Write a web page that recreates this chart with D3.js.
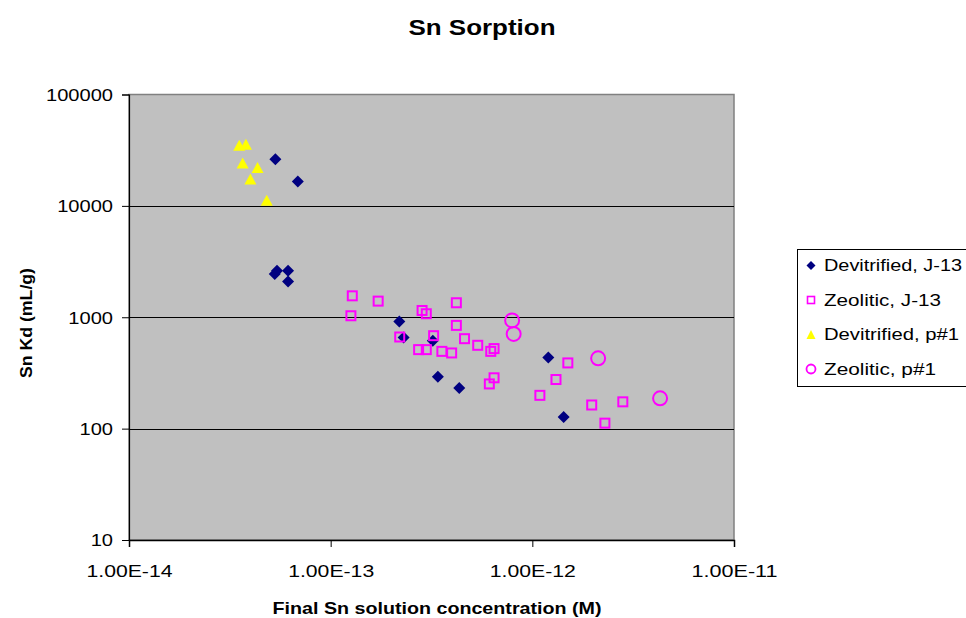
<!DOCTYPE html>
<html>
<head>
<meta charset="utf-8">
<script src="https://cdn.jsdelivr.net/npm/d3@7"></script>
<style>
  html, body { margin: 0; padding: 0; background: #ffffff; }
  svg { display: block; }
  text { font-family: "Liberation Sans", Arial, sans-serif; fill: #000; }
</style>
</head>
<body>
<svg id="chart" width="966" height="618"></svg>
<script>
// ---------------- data ----------------
const seriesNames = ["Devitrified, J-13", "Zeolitic, J-13", "Devitrified, p#1", "Zeolitic, p#1"];

const devJ13X = [5.32e-14, 6.87e-14, 5.28e-14, 5.42e-14, 6.15e-14, 6.15e-14, 2.19e-13, 2.30e-13, 3.21e-13, 3.40e-13, 4.34e-13, 1.20e-12, 1.43e-12];
const devJ13Y = [26200, 16550, 2450, 2620, 2610, 2090, 917, 659, 616, 292, 232, 434, 127];

const zeoJ13X = [1.28e-13, 1.72e-13, 1.26e-13, 2.84e-13, 2.98e-13, 4.20e-13, 4.20e-13, 2.20e-13, 3.24e-13, 4.61e-13, 5.36e-13, 6.22e-13, 6.46e-13, 2.73e-13, 2.98e-13, 3.56e-13, 3.98e-13, 6.12e-13, 6.46e-13, 1.50e-12, 1.31e-12, 1.09e-12, 1.97e-12, 2.81e-12, 2.29e-12];
const zeoJ13Y = [1557, 1396, 1031, 1150, 1075, 1349, 845, 665, 683, 642, 560, 494, 523, 512, 512, 494, 478, 252, 286, 389, 276, 199, 163, 174, 112];

const devP1X = [3.52e-14, 3.80e-14, 3.66e-14, 4.34e-14, 4.00e-14, 4.82e-14];
const devP1Y = [34980, 35750, 24290, 22080, 17470, 11260];

const zeoP1X = [7.94e-13, 8.08e-13, 2.12e-12, 4.30e-12];
const zeoP1Y = [936, 708, 428, 187];

const xTickValues = [1e-14, 1e-13, 1e-12, 1e-11];
const xTickLabels = ["1.00E-14", "1.00E-13", "1.00E-12", "1.00E-11"];
const yTickValues = [10, 100, 1000, 10000, 100000];
const yTickLabels = ["10", "100", "1000", "10000", "100000"];
const gridValues = [100, 1000, 10000];

const titleText = "Sn Sorption";
const xTitleText = "Final Sn solution concentration (M)";
const yTitleText = "Sn Kd (mL/g)";

// ---------------- layout ----------------
const svg = d3.select("#chart");
const plot = { left: 129, right: 734, top: 94.5, bottom: 540 };

const x = d3.scaleLog().domain([1e-14, 1e-11]).range([plot.left, plot.right]);
const y = d3.scaleLog().domain([10, 1e5]).range([plot.bottom, plot.top]);

function stretch(sel, target) {
  sel.each(function() {
    const w = this.getComputedTextLength();
    const t = (typeof target === "function") ? target(w) : target;
    d3.select(this).attr("textLength", t).attr("lengthAdjust", "spacingAndGlyphs");
  });
}

// plot background
svg.append("rect")
  .attr("x", plot.left).attr("y", plot.top)
  .attr("width", plot.right - plot.left).attr("height", plot.bottom - plot.top)
  .attr("fill", "#c0c0c0").attr("stroke", "#808080").attr("stroke-width", 1.5);

// gridlines
svg.append("g").selectAll("line").data(gridValues).join("line")
  .attr("x1", plot.left).attr("x2", plot.right)
  .attr("y1", d => Math.round(y(d)) + 0.5).attr("y2", d => Math.round(y(d)) + 0.5)
  .attr("stroke", "#000").attr("stroke-width", 1);

// axes
const yAxis = d3.axisLeft(y).tickValues(yTickValues)
  .tickFormat((d, i) => yTickLabels[i]).tickSize(7).tickPadding(9);
const gy = svg.append("g").attr("transform", `translate(${plot.left},0)`).call(yAxis);
gy.select(".domain").attr("stroke", "#000").attr("stroke-width", 1.2);
gy.selectAll(".tick line").attr("stroke", "#000");
gy.selectAll(".tick text").attr("font-size", 16).attr("font-family", "Liberation Sans, Arial, sans-serif")
  .attr("dy", "0.36em");
stretch(gy.selectAll(".tick text"), w => w * 1.255);

const xAxis = d3.axisBottom(x).tickValues(xTickValues)
  .tickFormat((d, i) => xTickLabels[i]).tickSize(7);
const gx = svg.append("g").attr("transform", `translate(0,${plot.bottom})`).call(xAxis);
gx.select(".domain").attr("stroke", "#000").attr("stroke-width", 1.5);
gx.selectAll(".tick line").attr("stroke", "#000");
gx.selectAll(".tick text").attr("font-size", 16).attr("font-family", "Liberation Sans, Arial, sans-serif")
  .attr("y", 37).attr("dy", 0);
stretch(gx.selectAll(".tick text"), 86);

// titles
svg.append("text").attr("x", 482).attr("y", 35).attr("text-anchor", "middle")
  .attr("font-size", 22).attr("font-weight", "bold").text(titleText)
  .call(s => stretch(s, 147));

svg.append("text").attr("x", 437).attr("y", 614).attr("text-anchor", "middle")
  .attr("font-size", 17).attr("font-weight", "bold").text(xTitleText)
  .call(s => stretch(s, 329));

svg.append("text").attr("transform", "translate(32,323) rotate(-90)").attr("text-anchor", "middle")
  .attr("font-size", 17).attr("font-weight", "bold").text(yTitleText)
  .call(s => stretch(s, 110));

// ---------------- markers ----------------
const diamond = s => `M0,${-s}L${s},0L0,${s}L${-s},0Z`;
const triangle = (w, h) => `M0,${-h/2}L${w/2},${h/2}L${-w/2},${h/2}Z`;

const devJ13 = devJ13X.map((v, i) => ({ x: v, y: devJ13Y[i] }));
const zeoJ13 = zeoJ13X.map((v, i) => ({ x: v, y: zeoJ13Y[i] }));
const devP1 = devP1X.map((v, i) => ({ x: v, y: devP1Y[i] }));
const zeoP1 = zeoP1X.map((v, i) => ({ x: v, y: zeoP1Y[i] }));

const gm = svg.append("g");
gm.append("g").selectAll("path").data(devJ13).join("path")
  .attr("transform", d => `translate(${x(d.x)},${y(d.y)})`)
  .attr("d", diamond(6)).attr("fill", "#000080");

gm.append("g").selectAll("rect").data(zeoJ13).join("rect")
  .attr("x", d => x(d.x) - 4.5).attr("y", d => y(d.y) - 4.5)
  .attr("width", 9).attr("height", 9)
  .attr("fill", "none").attr("stroke", "#ff00ff").attr("stroke-width", 2);

gm.append("g").selectAll("path").data(devP1).join("path")
  .attr("transform", d => `translate(${x(d.x)},${y(d.y)})`)
  .attr("d", triangle(12, 11)).attr("fill", "#ffff00");

gm.append("g").selectAll("circle").data(zeoP1).join("circle")
  .attr("cx", d => x(d.x)).attr("cy", d => y(d.y)).attr("r", 7)
  .attr("fill", "none").attr("stroke", "#ff00ff").attr("stroke-width", 2);

// ---------------- legend ----------------
const lg = svg.append("g");
lg.append("rect").attr("x", 797.5).attr("y", 249.5).attr("width", 180).attr("height", 137)
  .attr("fill", "#fff").attr("stroke", "#000").attr("stroke-width", 1);

const legendRowY = d3.scalePoint().domain(seriesNames).range([265.5, 369]);
const legendWidths = [138, 117, 135, 112];
seriesNames.forEach((name, i) => {
  const cy = legendRowY(name);
  const g = lg.append("g").attr("transform", `translate(811,${cy})`);
  if (i === 0) g.append("path").attr("d", diamond(4.5)).attr("fill", "#000080");
  if (i === 1) g.append("rect").attr("x", -3.5).attr("y", -3.5).attr("width", 7).attr("height", 7)
    .attr("fill", "none").attr("stroke", "#ff00ff").attr("stroke-width", 1.6);
  if (i === 2) g.append("path").attr("d", triangle(9, 9)).attr("fill", "#ffff00");
  if (i === 3) g.append("circle").attr("r", 4.5).attr("fill", "none").attr("stroke", "#ff00ff").attr("stroke-width", 1.8);
  lg.append("text").attr("x", 824).attr("y", cy).attr("dy", "0.36em")
    .attr("font-size", 16).text(name)
    .call(s => stretch(s, legendWidths[i]));
});
</script>
</body>
</html>
